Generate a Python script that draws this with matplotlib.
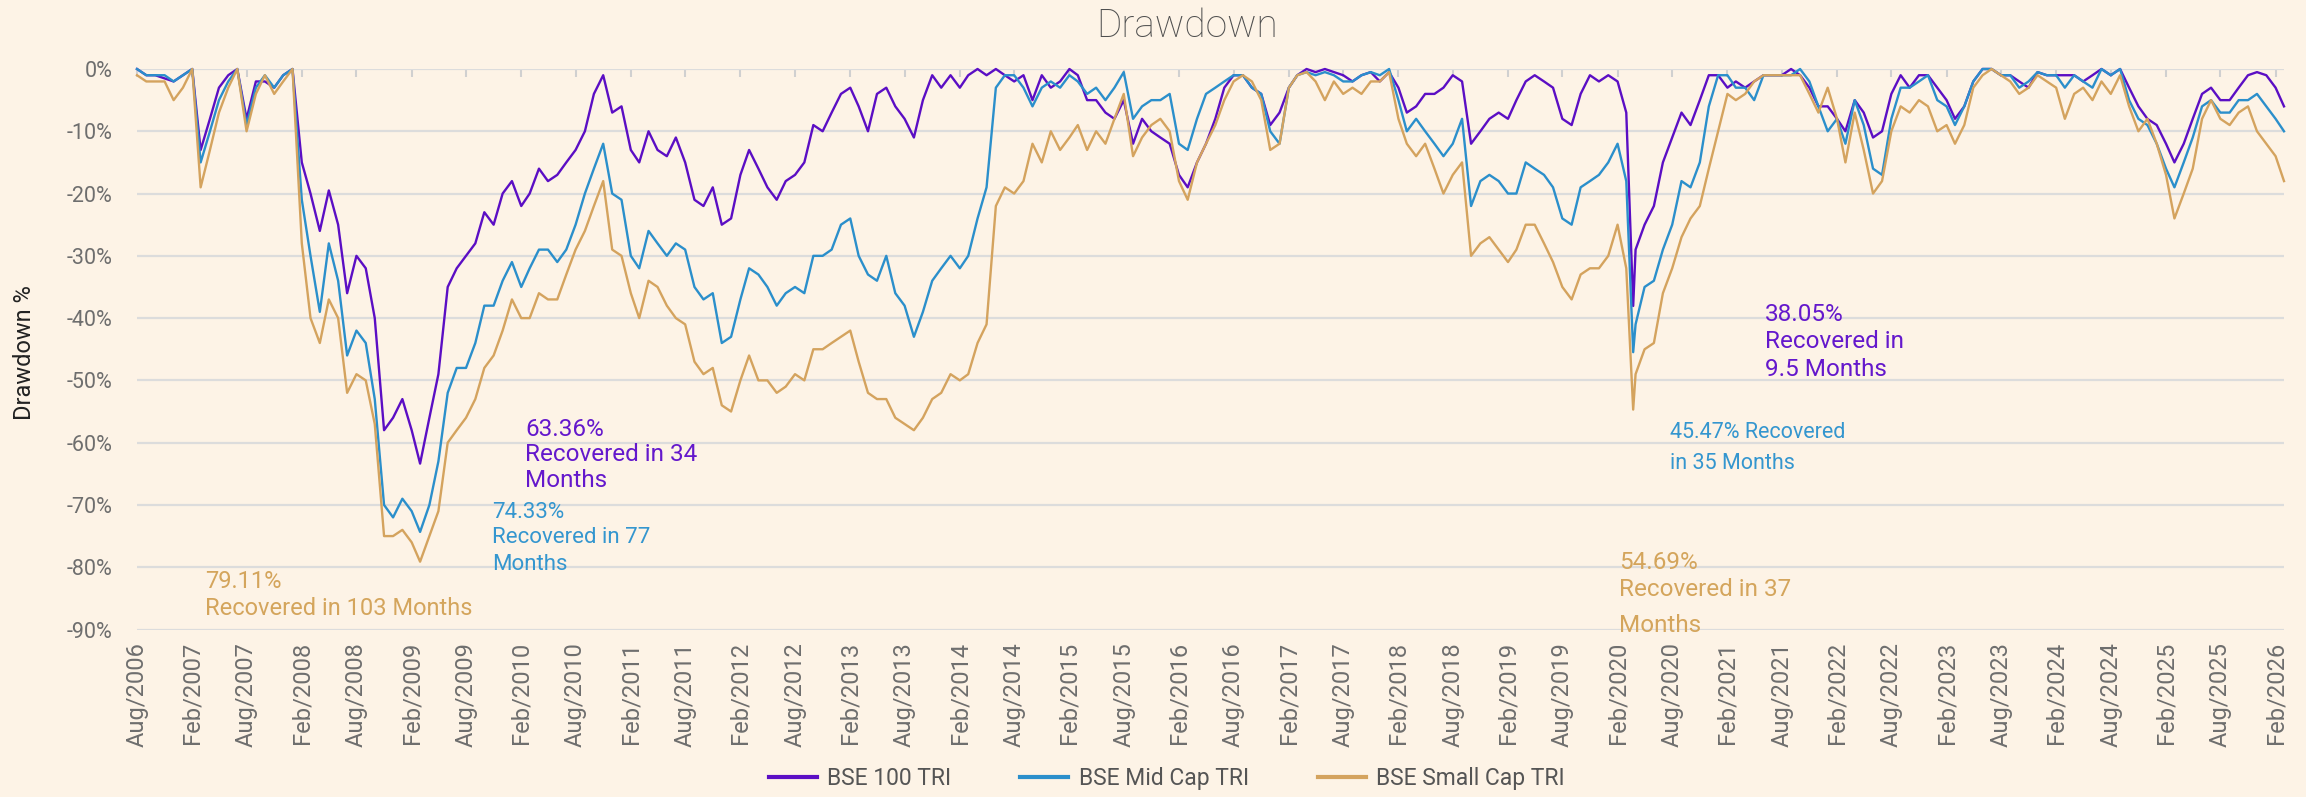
import numpy as np
import pandas as pd
import matplotlib
matplotlib.use("Agg")
import matplotlib.pyplot as plt
import matplotlib.dates as mdates

# ---------------- data (monthly drawdown %, Aug 2006 -> Mar 2026) ----------------
start_month = "2006-08-01"

bse100 = [
    0, -1, -1, -1.5, -2, -1, 0, -13, -8, -3, -1, 0,
    -8, -2, -2, -3, -1, 0, -15, -20, -26, -19.5, -25, -36,
    -30, -32, -40, -58, -56, -53, -58, -63.36, -56, -49, -35, -32,
    -30, -28, -23, -25, -20, -18, -22, -20, -16, -18, -17, -15,
    -13, -10, -4, -1, -7, -6, -13, -15, -10, -13, -14, -11,
    -15, -21, -22, -19, -25, -24, -17, -13, -16, -19, -21, -18,
    -17, -15, -9, -10, -7, -4, -3, -6, -10, -4, -3, -6,
    -8, -11, -5, -1, -3, -1, -3, -1, 0, -1, 0, -1,
    -2, -1, -5, -1, -3, -2, 0, -1, -5, -5, -7, -8,
    -5, -12, -8, -10, -11, -12, -17, -19, -15, -12, -8, -3,
    -1, -1, -3, -4, -9, -7, -3, -1, 0, -0.5, 0, -0.5,
    -1, -2, -1, -0.5, -2, -0.5, -3, -7, -6, -4, -4, -3,
    -1, -2, -12, -10, -8, -7, -8, -5, -2, -1, -2, -3,
    -8, -9, -4, -1, -2, -1, -2, -7, -29, -25, -22, -15,
    -11, -7, -9, -5, -1, -1, -3, -2, -3, -2, -1, -1,
    -1, 0, -1, -3, -6, -6, -8, -10, -5, -7, -11, -10,
    -4, -1, -3, -1, -1, -3, -5, -8, -6, -2, 0, 0,
    -1, -1, -2, -3, -0.5, -1, -1, -1, -1, -2, -1, 0,
    -1, 0, -3, -6, -8, -9, -12, -15, -12, -8, -4, -3,
    -5, -5, -3, -1, -0.5, -1, -3, -6,
]

midcap = [
    0, -1, -1, -1, -2, -1, 0, -15, -10, -5, -2, 0,
    -9, -3, -1, -3, -1, 0, -21, -30, -39, -28, -34, -46,
    -42, -44, -53, -70, -72, -69, -71, -74.33, -70, -63, -52, -48,
    -48, -44, -38, -38, -34, -31, -35, -32, -29, -29, -31, -29,
    -25, -20, -16, -12, -20, -21, -30, -32, -26, -28, -30, -28,
    -29, -35, -37, -36, -44, -43, -37, -32, -33, -35, -38, -36,
    -35, -36, -30, -30, -29, -25, -24, -30, -33, -34, -30, -36,
    -38, -43, -39, -34, -32, -30, -32, -30, -24, -19, -3, -1,
    -1, -3, -6, -3, -2, -3, -1, -2, -4, -3, -5, -3,
    -0.5, -8, -6, -5, -5, -4, -12, -13, -8, -4, -3, -2,
    -1, -1, -3, -4, -10, -12, -3, -1, -0.5, -1, -0.5, -1,
    -2, -2, -1, -0.5, -1, 0, -5, -10, -8, -10, -12, -14,
    -12, -8, -22, -18, -17, -18, -20, -20, -15, -16, -17, -19,
    -24, -25, -19, -18, -17, -15, -12, -18, -41, -35, -34, -29,
    -25, -18, -19, -15, -6, -1, -1, -3, -3, -5, -1, -1,
    -1, -1, 0, -2, -6, -10, -8, -12, -5, -9, -16, -17,
    -8, -3, -3, -2, -1, -5, -6, -9, -6, -2, 0, 0,
    -1, -1, -3, -2, -0.5, -1, -1, -3, -1, -2, -3, 0,
    -1, 0, -5, -8, -9, -12, -16, -19, -15, -11, -6, -5,
    -7, -7, -5, -5, -4, -6, -8, -10,
]

smallcap = [
    -1, -2, -2, -2, -5, -3, 0, -19, -13, -7, -3, 0,
    -10, -4, -1, -4, -2, 0, -28, -40, -44, -37, -40, -52,
    -49, -50, -57, -75, -75, -74, -76, -79.11, -75, -71, -60, -58,
    -56, -53, -48, -46, -42, -37, -40, -40, -36, -37, -37, -33,
    -29, -26, -22, -18, -29, -30, -36, -40, -34, -35, -38, -40,
    -41, -47, -49, -48, -54, -55, -50, -46, -50, -50, -52, -51,
    -49, -50, -45, -45, -44, -43, -42, -47, -52, -53, -53, -56,
    -57, -58, -56, -53, -52, -49, -50, -49, -44, -41, -22, -19,
    -20, -18, -12, -15, -10, -13, -11, -9, -13, -10, -12, -8,
    -4, -14, -11, -9, -8, -10, -18, -21, -15, -12, -9, -5,
    -2, -1, -2, -5, -13, -12, -3, -1, -0.5, -2, -5, -2,
    -4, -3, -4, -2, -2, -0.5, -8, -12, -14, -12, -16, -20,
    -17, -15, -30, -28, -27, -29, -31, -29, -25, -25, -28, -31,
    -35, -37, -33, -32, -32, -30, -25, -32, -49, -45, -44, -36,
    -32, -27, -24, -22, -16, -10, -4, -5, -4, -2, -1, -1,
    -1, -1, -1, -4, -7, -3, -8, -15, -7, -13, -20, -18,
    -10, -6, -7, -5, -6, -10, -9, -12, -9, -3, -1, 0,
    -1, -2, -4, -3, -1, -2, -3, -8, -4, -3, -5, -2,
    -4, -1, -6, -10, -8, -12, -17, -24, -20, -16, -8, -5,
    -8, -9, -7, -6, -10, -12, -14, -18,
]

# COVID trough (between monthly samples)
extra_dates = ["2020-03-24"]
extra_bse100 = [-38.05]
extra_midcap = [-45.47]
extra_smallcap = [-54.69]

series_names = ["BSE 100 TRI", "BSE Mid Cap TRI", "BSE Small Cap TRI"]
y_ticks = [0, -10, -20, -30, -40, -50, -60, -70, -80, -90]

# annotations: (date, [(y, text)], colour key, fontsize)
annotations = [
    ("2007-03-15", [(-82.3, "79.11%"), (-86.6, "Recovered in 103 Months")], 2, 17),
    ("2010-02-15", [(-57.9, "63.36%"), (-61.9, "Recovered in 34"), (-66.0, "Months")], 0, 17.5),
    ("2009-10-28", [(-71.2, "74.33%"), (-75.2, "Recovered in 77"), (-79.5, "Months")], 1, 16),
    ("2021-06-05", [(-39.5, "38.05%"), (-43.8, "Recovered in"), (-48.2, "9.5 Months")], 0, 17.5),
    ("2020-07-26", [(-58.3, "45.47% Recovered"), (-63.3, "in 35 Months")], 1, 15.5),
    ("2020-02-06", [(-79.3, "54.69%"), (-83.6, "Recovered in 37"), (-89.4, "Months")], 2, 17.5),
]

# ---------------- styling ----------------
BG = "#FDF3E6"
GRID = "#DCDCDC"
LINE_COLORS = ["#5B0EC4", "#2B8FCB", "#D4A35E"]
TEXT_COLORS = ["#6418CC", "#3496CF", "#D4A55C"]
TICK_COLOR = "#6E6E6E"
FONT = ["Roboto", "DejaVu Sans"]

plt.rcParams["font.family"] = FONT

fig = plt.figure(figsize=(23.06, 7.97), dpi=100, facecolor=BG)
ax = fig.add_axes([137 / 2306, 1 - 629.5 / 797, (2284 - 137) / 2306, (629.5 - 69) / 797])
ax.set_facecolor(BG)

dates = pd.date_range(start_month, periods=len(bse100), freq="MS")
ext = pd.to_datetime(extra_dates)


def build(vals, extra):
    s = pd.concat([pd.Series(vals, index=dates, dtype=float),
                   pd.Series(extra, index=ext, dtype=float)])
    return s.sort_index()


all_series = [build(bse100, extra_bse100), build(midcap, extra_midcap),
              build(smallcap, extra_smallcap)]

for s, name, c in zip(all_series, series_names, LINE_COLORS):
    ax.plot(s.index, s.values, color=c, lw=1.7, label=name, clip_on=False,
            solid_joinstyle="round", zorder=3)

ax.set_xlim(dates[0], dates[-1])
ax.set_ylim(-90, 0)
ax.set_yticks(y_ticks)
ax.set_yticklabels([f"{v}%" for v in y_ticks])
ax.yaxis.grid(True, color=GRID, lw=1.6, zorder=0)
ax.xaxis.grid(False)
for sp in ax.spines.values():
    sp.set_visible(False)

ax.xaxis.set_major_locator(mdates.MonthLocator(bymonth=[2, 8], bymonthday=1))
ax.xaxis.set_major_formatter(mdates.DateFormatter("%b/%Y"))
ax.tick_params(axis="x", bottom=False, top=True, direction="in", length=6, width=1.5,
               color="#D0D0D0", labelbottom=True, labeltop=False, pad=9,
               labelsize=17, labelcolor=TICK_COLOR, labelrotation=90)
ax.tick_params(axis="y", left=False, right=False, pad=14, labelsize=15.5,
               labelcolor=TICK_COLOR)
for lbl in ax.get_xticklabels():
    lbl.set_verticalalignment("top")
    lbl.set_horizontalalignment("center")

for d, lines, ci, fs in annotations:
    for y, txt in lines:
        ax.text(pd.Timestamp(d), y, txt, color=TEXT_COLORS[ci], fontsize=fs,
                ha="left", va="center", zorder=5)

fig.text(0.5147, 0.967, "Drawdown", ha="center", va="center", fontsize=28,
         color="#4F4F4F", fontweight="light")
fig.text(25 / 2306, 1 - 353 / 797, "Drawdown %", rotation=90, ha="center",
         va="center", fontsize=17, color="#222222")

leg = fig.legend(loc="center", bbox_to_anchor=(0.506, 0.0226), ncol=3, frameon=False,
                 fontsize=16.5, handlelength=2.1, handletextpad=0.45, columnspacing=3.0)
for t in leg.get_texts():
    t.set_color("#555555")
for h in leg.get_lines():
    h.set_linewidth(3)

fig.savefig("out.png", dpi=100, facecolor=BG)
